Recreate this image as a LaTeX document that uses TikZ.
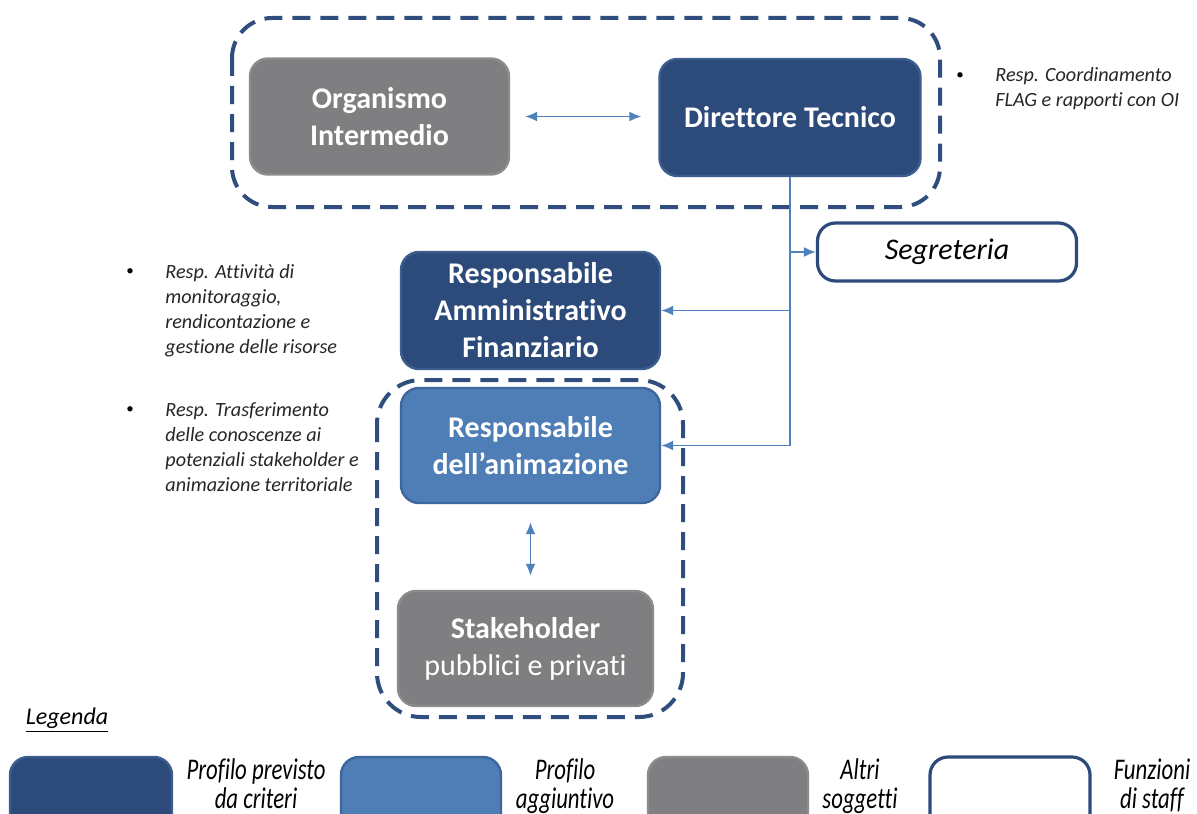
\documentclass[tikz,border=0pt]{standalone}
\usepackage{fontspec}
\defaultfontfeatures{Ligatures=NoCommon}
\setmainfont{Carlito}
\newfontfamily\narrowfont[FakeStretch=0.76]{Carlito}
\usetikzlibrary{arrows.meta,positioning}
\definecolor{darkblue}{HTML}{2C4B7B}
\definecolor{darkline}{HTML}{3C5E8F}
\definecolor{midblue}{HTML}{4F7EB6}
\definecolor{midline}{HTML}{3D669C}
\definecolor{othergray}{HTML}{7F7F82}
\definecolor{dashblue}{HTML}{2F4E7E}
\definecolor{linkblue}{HTML}{4F81BD}

\begin{document}
\begin{tikzpicture}[x=0.5pt,y=-0.5pt,
  box/.style = {rounded corners=9pt, minimum width=129.5pt, minimum height=58pt, inner sep=2pt,
    text=white, align=center, line width=1.2pt, font=\fontsize{15}{18.5}\selectfont\bfseries},
  profilo/.style = {box, fill=darkblue, draw=darkline},
  aggiunto/.style = {box, fill=midblue, draw=midline},
  altri/.style = {box, fill=othergray, draw=othergray!90!white},
  staff/.style = {box, fill=white, draw=darkblue, line width=1.6pt, text=black,
    font=\fontsize{15}{18.5}\selectfont\itshape},
  group/.style = {draw=dashblue, line width=2pt, dash pattern=on 9pt off 5pt},
  conn/.style = {draw=linkblue, line width=0.9pt},
  tip/.style = {-{Latex[length=6pt,width=5pt]}},
  both/.style = {{Latex[length=6pt,width=5pt]}-{Latex[length=6pt,width=5pt]}},
  note/.style = {font=\fontsize{10.1}{12.5}\selectfont\itshape, align=left, inner sep=0pt,
    anchor=north west, text=black!85},
  dot/.style = {font=\fontsize{7.5}{10}\selectfont, inner sep=0pt},
  keytext/.style = {font=\fontsize{15}{14.5}\narrowfont\itshape, align=center, inner sep=0pt, anchor=north}]
\useasboundingbox (0,0) rectangle (1197,813);

% groups
\draw[group, rounded corners=20pt] (232,18) rectangle (940,207);
\draw[group, rounded corners=22pt] (377,380) rectangle (683,717);

% boxes
\node[altri] (oi) at (379.5,116.5) {Organismo\\Intermedio};
\node[profilo, minimum width=130.5pt, minimum height=58.5pt] (dt) at (790,117.5) {Direttore Tecnico};
\node[staff, minimum height=29pt] (seg) at (947,252) {Segreteria};
\node[profilo, minimum height=58.5pt] (raf) at (530.5,310.5) {Responsabile\\Amministrativo\\Finanziario};
\node[aggiunto, minimum height=57.5pt] (anim) at (530.5,445.5) {Responsabile\\dell’animazione};
\node[altri, minimum width=127.5pt, minimum height=57.5pt] (stake) at (525.5,648.5) {Stakeholder\\{\mdseries pubblici e privati}};

% connectors
\draw[conn,both] ([xshift=7.5pt]oi.east) -- ([xshift=-8.5pt]oi.east -| dt.west);
\draw[conn,tip] (dt.south) |- (seg.west);
\draw[conn,tip] (dt.south) |- (raf.east);
\draw[conn,tip] (dt.south) |- (anim.east);
\draw[conn,both] ([yshift=-9pt]anim.south) -- ([yshift=7pt]anim.south |- stake.north);

% notes
\node[dot] (b1) at (960,76) {\textbullet};
\node[note] (n1) at (995,67) {Resp. Coordinamento\\FLAG e rapporti con OI};
\node[dot] (b2) at (130,272) {\textbullet};
\node[note] (n2) at (165,264) {Resp. Attività di\\monitoraggio,\\rendicontazione e\\gestione delle risorse};
\node[dot] (b3) at (130,410) {\textbullet};
\node[note] (n3) at (165,402) {Resp. Trasferimento\\delle conoscenze ai\\potenziali stakeholder e\\animazione territoriale};

% legenda
\node[inner sep=0pt, font=\fontsize{12}{14}\selectfont\itshape] (leg) at (67,720) {\underline{Legenda}};
\begin{scope}
\clip (0,0) rectangle (1197,813);
\node[profilo, minimum width=81pt, minimum height=39pt] (k1) at (91,796) {};
\node[aggiunto, minimum width=80pt, minimum height=39pt] (k2) at (421,796) {};
\node[altri, minimum width=80pt, minimum height=39pt] (k3) at (728,796) {};
\node[staff, minimum width=80pt, minimum height=39pt] (k4) at (1010,796) {};
\node[keytext] (t1) at (256,758) {Profilo previsto\\da criteri};
\node[keytext] (t2) at (565,758) {Profilo\\aggiuntivo};
\node[keytext] (t3) at (860,758) {Altri\\soggetti};
\node[keytext] (t4) at (1152,758) {Funzioni\\di staff};
\end{scope}
\end{tikzpicture}
\end{document}
